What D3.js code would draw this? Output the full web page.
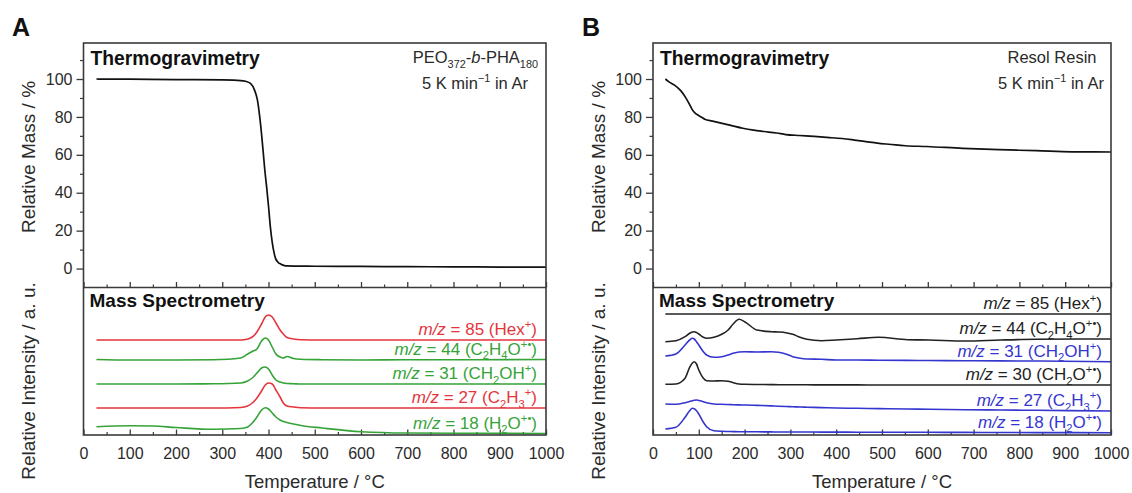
<!DOCTYPE html>
<html>
<head>
<meta charset="utf-8">
<script src="https://cdn.jsdelivr.net/npm/d3@7"></script>
<style>
  html, body { margin: 0; padding: 0; background: #fff; }
  svg { display: block; font-family: Arial, "Liberation Sans", Helvetica, sans-serif; }
</style>
</head>
<body>
<svg id="chart" width="1132" height="493"></svg>
<script>
// ---------- Thermogravimetry (relative mass, %) ----------
const tgTempA = [28, 100, 200, 300, 340, 350, 361, 370, 376, 382, 388, 392, 396, 400, 404, 408, 412, 415, 420, 427, 433, 439, 460, 500, 600, 700, 800, 900, 1000];
const tgMassA = [100, 99.9, 99.7, 99.5, 99.2, 98.8, 97.7, 94, 89, 78, 63, 52, 43, 33, 22, 14, 8.4, 5.5, 3.5, 2.3, 1.7, 1.4, 1.3, 1.2, 1.1, 1, 0.9, 0.8, 0.7];

const tgTempB = [27, 35, 47, 60, 70, 80, 86, 92, 98, 105, 113, 130, 144, 170, 196, 220, 243, 270, 290, 320, 352, 380, 413, 440, 465, 490, 509, 530, 551, 598, 676, 755, 837, 915, 1000];
const tgMassB = [100, 98.5, 96.8, 94, 90.7, 86.5, 83.7, 82, 81, 80, 78.8, 77.8, 77, 75.5, 74, 73, 72.3, 71.5, 70.7, 70.2, 69.7, 69.2, 68.6, 67.8, 67, 66.2, 65.7, 65.2, 64.8, 64.4, 63.4, 62.7, 62.2, 61.6, 61.5];

// ---------- Mass spectrometry (ion current, a.u., stacked) ----------
const msTempA = [28, 100, 150, 200, 280, 340, 355, 365, 375, 385, 393, 400, 408, 416, 425, 432, 440, 454, 470, 516, 600, 700, 850, 1000];
const ms85A = [0, 0, 0, 0, 0, 0, 1, 3, 8, 16, 23, 25, 23, 17, 10, 6, 2.5, 1, 0.3, 0, 0, 0, 0, 0];
const ms44A = [0.5, 0, 0, 0, 0.3, 2, 6, 8.5, 11, 19, 22, 20, 13, 6, 3, 2, 3.5, 1.5, 0.8, 0.3, 0, 0.3, 0.3, 0.5];
const ms31A = [0, 0, 0, 0, 0.2, 1, 3, 6, 11, 16, 17, 15, 9, 4, 2, 1, 0.5, 0.3, 0, 0, 0, 0, 0, 0];
const ms27A = [0, 0, 0, 0, 0, 0.5, 2, 5, 10, 17, 23, 25, 24, 18, 11, 5, 2, 1, 0.3, 0, 0, 0, 0, 0];
const ms18A = [7.3, 8.3, 8, 6.5, 4.7, 5.5, 7, 11, 17, 24, 26.3, 25, 21, 17, 14, 12.5, 11.5, 10, 8.5, 6, 2.3, 1, 0.7, 0.5];

const msTempB = [27, 50, 70, 80, 86, 90, 95, 100, 110, 117, 133, 150, 164, 175, 188, 200, 227, 258, 274, 290, 305, 321, 336, 368, 400, 446, 493, 556, 602, 681, 759, 837, 1000];
const ms85B = [0, 0, 0, 0, 0, 0, 0, 0, 0, 0, 0, 0, 0, 0, 0, 0, 0, 0, 0, 0, 0, 0, 0, 0, 0, 0, 0, 0, 0, 0, 0, 0, 0];
const ms44B = [0.3, 1.3, 5.3, 8.7, 10, 10.3, 9.5, 8, 4.7, 3.7, 4.7, 7.7, 12, 18, 22.7, 20.3, 12, 10.3, 10, 9.3, 7.7, 4.7, 2.7, 1.3, 2, 3.3, 4.7, 2.3, 2, 1, 2, 2.7, 3];
const ms31B = [6, 8, 17, 22, 23.7, 23, 20.3, 17, 10.3, 7, 4.7, 5.3, 7, 8.7, 10, 10.3, 10, 10.3, 9.7, 8, 5.3, 3.7, 3, 2.7, 2, 2, 1.8, 1.6, 1.5, 1.3, 1.1, 1, 0.3];
const ms30B = [0.7, 1, 6.7, 17.7, 22, 23.3, 21, 15, 6.7, 4.3, 4, 4.3, 3.7, 2.3, 1, 0.7, 0.5, 0.4, 0.3, 0.3, 0.2, 0.2, 0.2, 0.1, 0.1, 0.1, 0, 0, 0, 0, 0, 0, 0];
const ms27B = [7, 6.7, 8.3, 9.5, 10.3, 10.8, 11, 10.5, 9.3, 8.3, 7, 6.7, 6.5, 6.3, 6.1, 6, 5.6, 5.1, 4.8, 4.5, 4.3, 4, 3.8, 3.4, 3, 2.7, 2.4, 2, 1.8, 1.3, 1, 0.7, 0];
const ms18B = [4, 5.7, 15.7, 22.3, 24.7, 24.3, 22.3, 19, 10.7, 6.3, 2.3, 1.7, 1.5, 1.4, 1.3, 1.3, 1.2, 1.1, 1, 1, 1, 1, 1, 0.9, 0.9, 0.8, 0.8, 0.7, 0.7, 0.6, 0.5, 0.4, 0.3];

// vertical offset of each trace in the stacked MS plot (a.u.)
const msOffsetA = [95, 75, 51, 27, 1];
const msOffsetB = [121, 93, 73, 50, 24, 2];

// ---------- ticks ----------
const xMajorTicks = [0, 100, 200, 300, 400, 500, 600, 700, 800, 900, 1000];
const xMinorTicks = [50, 150, 250, 350, 450, 550, 650, 750, 850, 950];
const yMajorTicks = [0, 20, 40, 60, 80, 100];
const yMinorTicks = [10, 30, 50, 70, 90, 110];

// ---------- colours ----------
const RED = "#e5353c", GREEN = "#35a338", BLUE = "#3535cf", BLACK = "#222";

// rich-text label pieces: [text, style] with style "", "i", "sub", "sup"
const lbl85 = [["m/z", "i"], [" = 85 (Hex", ""], ["+", "sup"], [")", ""]];
const lbl44 = [["m/z", "i"], [" = 44 (C", ""], ["2", "sub"], ["H", ""], ["4", "sub"], ["O", ""], ["+\u2022", "sup"], [")", ""]];
const lbl31 = [["m/z", "i"], [" = 31 (CH", ""], ["2", "sub"], ["OH", ""], ["+", "sup"], [")", ""]];
const lbl30 = [["m/z", "i"], [" = 30 (CH", ""], ["2", "sub"], ["O", ""], ["+\u2022", "sup"], [")", ""]];
const lbl27 = [["m/z", "i"], [" = 27 (C", ""], ["2", "sub"], ["H", ""], ["3", "sub"], ["+", "sup"], [")", ""]];
const lbl18 = [["m/z", "i"], [" = 18 (H", ""], ["2", "sub"], ["O", ""], ["+\u2022", "sup"], [")", ""]];

const panels = [
  {
    letter: "A", left: 83.5, right: 546, letterX: 12, titleX: 28,
    tg: { temp: tgTempA, mass: tgMassA },
    sample: [["PEO", ""], ["372", "sub"], ["-", ""], ["b", "i"], ["-PHA", ""], ["180", "sub"]],
    sampleX: 538, rateX: 475, sampleAnchor: "end",
    ms: {
      temp: msTempA,
      series: [
        { values: ms85A, color: RED, label: lbl85 },
        { values: ms44A, color: GREEN, label: lbl44 },
        { values: ms31A, color: GREEN, label: lbl31 },
        { values: ms27A, color: RED, label: lbl27 },
        { values: ms18A, color: GREEN, label: lbl18 }
      ],
      offsets: msOffsetA
    }
  },
  {
    letter: "B", left: 653, right: 1111, letterX: 582, titleX: 598,
    tg: { temp: tgTempB, mass: tgMassB },
    sample: [["Resol Resin", ""]],
    sampleX: 1052, rateX: 1051, sampleAnchor: "middle",
    ms: {
      temp: msTempB,
      series: [
        { values: ms85B, color: BLACK, label: lbl85 },
        { values: ms44B, color: BLACK, label: lbl44 },
        { values: ms31B, color: BLUE, label: lbl31 },
        { values: ms30B, color: BLACK, label: lbl30 },
        { values: ms27B, color: BLUE, label: lbl27 },
        { values: ms18B, color: BLUE, label: lbl18 }
      ],
      offsets: msOffsetB
    }
  }
];

const TOP = 43, SEP = 287.5, BOTTOM = 435;
const TEXT = "#2a2a2a", AXIS = "#3a3a3a";
const FONT = "Arial, 'Liberation Sans', sans-serif";

const svg = d3.select("#chart");

function rich(textSel, parts, size) {
  let shift = 0;
  parts.forEach(([t, s]) => {
    const target = s === "sub" ? 0.28 * size : s === "sup" ? -0.4 * size : 0;
    const ts = textSel.append("tspan").attr("dy", target - shift).text(t);
    shift = target;
    if (s === "sub" || s === "sup") ts.attr("font-size", size * 0.66);
    if (s === "i") ts.attr("font-style", "italic");
  });
}

panels.forEach(p => {
  const g = svg.append("g");
  const x = d3.scaleLinear().domain([0, 1000]).range([p.left, p.right]);
  const yTG = d3.scaleLinear().domain([-10, 119]).range([SEP, TOP]);
  const yMS = d3.scaleLinear().domain([0, BOTTOM - SEP]).range([BOTTOM, SEP]);

  // panel letter
  g.append("text").attr("x", p.letterX).attr("y", 36)
    .attr("font-size", 25).attr("font-weight", "bold").attr("fill", "#111").text(p.letter);

  // y axis of the TG part (outward ticks)
  const yAxis = g.append("g").attr("transform", `translate(${p.left},0)`)
    .call(d3.axisLeft(yTG).tickValues(yMajorTicks).tickSize(7).tickPadding(4));
  yAxis.select(".domain").remove();
  yAxis.selectAll("line").attr("stroke", AXIS).attr("stroke-width", 1.3);
  yAxis.selectAll("text").attr("font-size", 16).attr("fill", TEXT).attr("font-family", FONT);
  const yMinor = g.append("g").attr("transform", `translate(${p.left},0)`)
    .call(d3.axisLeft(yTG).tickValues(yMinorTicks).tickSize(3.5).tickFormat(""));
  yMinor.select(".domain").remove();
  yMinor.selectAll("line").attr("stroke", AXIS).attr("stroke-width", 1.2);

  // inward x ticks on the divider and on the bottom edge
  [SEP, BOTTOM].forEach((yy, i) => {
    const major = g.append("g").attr("transform", `translate(0,${yy})`)
      .call(d3.axisBottom(x).tickValues(xMajorTicks).tickFormat(d3.format("d"))
        .tickSizeInner(-5.5).tickSizeOuter(0).tickPadding(13));
    major.select(".domain").remove();
    major.selectAll("line").attr("stroke", AXIS).attr("stroke-width", 1.3);
    if (i === 0) major.selectAll("text").remove();
    else major.selectAll("text").attr("font-size", 16).attr("fill", TEXT).attr("font-family", FONT);
    const minor = g.append("g").attr("transform", `translate(0,${yy})`)
      .call(d3.axisBottom(x).tickValues(xMinorTicks).tickSizeInner(-3).tickSizeOuter(0).tickFormat(""));
    minor.select(".domain").remove();
    minor.selectAll("line").attr("stroke", AXIS).attr("stroke-width", 1.2);
  });

  // TG curve
  const lineTG = d3.line().x((d, i) => x(p.tg.temp[i])).y(d => yTG(d)).curve(d3.curveMonotoneX);
  g.append("path").datum(p.tg.mass).attr("d", lineTG)
    .attr("fill", "none").attr("stroke", "#111").attr("stroke-width", 1.7);

  // MS traces and their labels
  p.ms.series.forEach((s, k) => {
    const off = p.ms.offsets[k];
    const line = d3.line().x((d, i) => x(p.ms.temp[i])).y(d => yMS(d + off)).curve(d3.curveMonotoneX);
    g.append("path").datum(s.values).attr("d", line)
      .attr("fill", "none").attr("stroke", s.color).attr("stroke-width", 1.6);
    const last = s.values[s.values.length - 1];
    const t = g.append("text").attr("x", p.right - 9).attr("y", yMS(off + last) - 5)
      .attr("text-anchor", "end").attr("font-size", 17).attr("fill", s.color);
    rich(t, s.label, 17);
  });

  // frame and divider
  g.append("rect").attr("x", p.left).attr("y", TOP)
    .attr("width", p.right - p.left).attr("height", BOTTOM - TOP)
    .attr("fill", "none").attr("stroke", AXIS).attr("stroke-width", 1.6);
  g.append("line").attr("x1", p.left).attr("x2", p.right).attr("y1", SEP).attr("y2", SEP)
    .attr("stroke", AXIS).attr("stroke-width", 1.6);

  // section headings
  g.append("text").attr("x", p.left + 7).attr("y", 65)
    .attr("font-size", 19.3).attr("font-weight", "bold").attr("fill", "#111").text("Thermogravimetry");
  g.append("text").attr("x", p.left + 6).attr("y", 307)
    .attr("font-size", 19).attr("font-weight", "bold").attr("fill", "#111").text("Mass Spectrometry");

  // sample / conditions annotation
  const st = g.append("text").attr("x", p.sampleX).attr("y", 63)
    .attr("text-anchor", p.sampleAnchor).attr("font-size", 16.5).attr("fill", TEXT);
  rich(st, p.sample, 16.5);
  const rt = g.append("text").attr("x", p.rateX).attr("y", 89)
    .attr("text-anchor", "middle").attr("font-size", 16.5).attr("fill", TEXT);
  rich(rt, [["5 K min", ""], ["\u22121", "sup"], [" in Ar", ""]], 16.5);

  // axis titles
  g.append("text").attr("transform", `translate(${p.titleX},157) rotate(-90)`)
    .attr("text-anchor", "middle").attr("dy", "0.35em")
    .attr("font-size", 19).attr("fill", TEXT).text("Relative Mass / %");
  g.append("text").attr("transform", `translate(${p.titleX},381) rotate(-90)`)
    .attr("text-anchor", "middle").attr("dy", "0.35em")
    .attr("font-size", 19).attr("fill", TEXT).text("Relative Intensity / a. u.");
  g.append("text").attr("x", (p.left + p.right) / 2).attr("y", 482)
    .attr("text-anchor", "middle").attr("dy", "0.35em")
    .attr("font-size", 18.5).attr("fill", TEXT).text("Temperature / \u00B0C");
});
</script>
</body>
</html>
